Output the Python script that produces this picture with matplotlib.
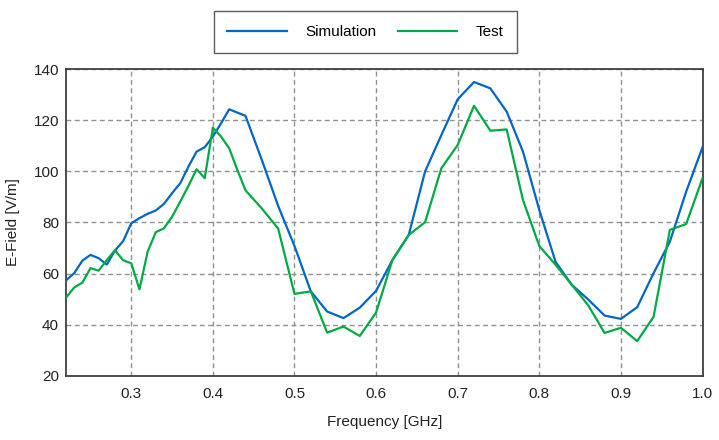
import matplotlib
matplotlib.use("Agg")
import matplotlib.pyplot as plt

plt.rcParams['font.family'] = ['Liberation Sans', 'DejaVu Sans']

sim_freq = [0.22, 0.23, 0.24, 0.25, 0.26, 0.27, 0.28, 0.29, 0.30, 0.31, 0.32, 0.33,
            0.34, 0.35, 0.36, 0.37, 0.38, 0.39, 0.40, 0.41, 0.42, 0.43, 0.44, 0.46,
            0.48, 0.50, 0.52, 0.54, 0.56, 0.58, 0.60, 0.62, 0.64, 0.66, 0.68, 0.70,
            0.72, 0.74, 0.76, 0.78, 0.80, 0.82, 0.84, 0.86, 0.88, 0.90, 0.92, 0.94,
            0.96, 0.98, 1.00]
sim_field = [57.3, 60.1, 65.0, 67.3, 66.0, 63.5, 69.0, 72.7, 79.7, 81.7, 83.4, 84.7,
             87.3, 91.5, 95.4, 101.9, 107.8, 109.5, 113.7, 118.9, 124.4, 123.1, 121.8, 104.5,
             86.5, 70.8, 53.0, 45.1, 42.5, 46.6, 53.2, 65.3, 75.1, 100.0, 114.3, 128.3,
             135.1, 132.6, 123.5, 107.8, 84.9, 64.5, 55.5, 49.8, 43.5, 42.2, 46.8, 60.1,
             72.5, 92.1, 109.5]

test_freq = [0.22, 0.23, 0.24, 0.25, 0.26, 0.27, 0.28, 0.29, 0.30, 0.31, 0.32, 0.33,
             0.34, 0.35, 0.36, 0.37, 0.38, 0.39, 0.40, 0.41, 0.42, 0.43, 0.44, 0.46,
             0.48, 0.50, 0.52, 0.54, 0.56, 0.58, 0.60, 0.62, 0.64, 0.66, 0.68, 0.70,
             0.72, 0.74, 0.76, 0.78, 0.80, 0.82, 0.84, 0.86, 0.88, 0.90, 0.92, 0.94,
             0.96, 0.98, 1.00]
test_field = [50.5, 54.5, 56.4, 62.1, 61.1, 65.3, 69.1, 65.2, 64.0, 53.8, 68.5, 76.2,
              77.7, 82.3, 88.2, 94.3, 100.9, 97.4, 117.2, 113.7, 109.1, 100.6, 92.6, 85.5,
              77.6, 52.0, 53.0, 36.8, 39.2, 35.5, 44.7, 65.3, 75.1, 80.1, 101.3, 110.4,
              125.8, 116.0, 116.5, 88.8, 70.8, 63.4, 55.5, 47.5, 36.7, 38.7, 33.5, 43.0,
              77.1, 79.4, 97.4]

x_ticks = [0.3, 0.4, 0.5, 0.6, 0.7, 0.8, 0.9, 1.0]
x_tick_labels = ['0.3', '0.4', '0.5', '0.6', '0.7', '0.8', '0.9', '1.0']
y_ticks = [20, 40, 60, 80, 100, 120, 140]

W, H = 719, 440
fig = plt.figure(figsize=(W / 100, H / 100), dpi=100)
ax = fig.add_axes([66 / W, 1 - 375.5 / H, (702.5 - 66) / W, (375.5 - 69.5) / H])

ax.plot(sim_freq, sim_field, color='#0066C8', lw=1.6, label='Simulation', zorder=3)
ax.plot(test_freq, test_field, color='#00AA44', lw=1.6, label='Test', zorder=3)

ax.set_xlim(0.22, 1.0)
ax.set_ylim(20, 140)
ax.set_xticks(x_ticks)
ax.set_xticklabels(x_tick_labels)
ax.set_yticks(y_ticks)
ax.tick_params(length=0, labelsize=11, colors='#222222')
ax.tick_params(axis='x', pad=8)
ax.tick_params(axis='y', pad=5)
ax.grid(True, linestyle=(0, (3.5, 2.5)), color='#909090', lw=1.0, zorder=1)
for s in ax.spines.values():
    s.set_color('#404040')
    s.set_linewidth(1.3)

ax.set_xlabel('Frequency [GHz]', fontsize=11, labelpad=10, color='#222222')
ax.set_ylabel('E-Field [V/m]', fontsize=11, labelpad=10, color='#222222')

leg = fig.legend(loc='center', bbox_to_anchor=(365.5 / W, 1 - 32 / H), ncol=2,
                 fontsize=11, frameon=True, fancybox=False, handlelength=3.9,
                 handletextpad=1.2, columnspacing=1.4, borderpad=0.9,
                 edgecolor='#333333')
leg.get_frame().set_linewidth(1.0)

fig.savefig('out.png', dpi=100)
